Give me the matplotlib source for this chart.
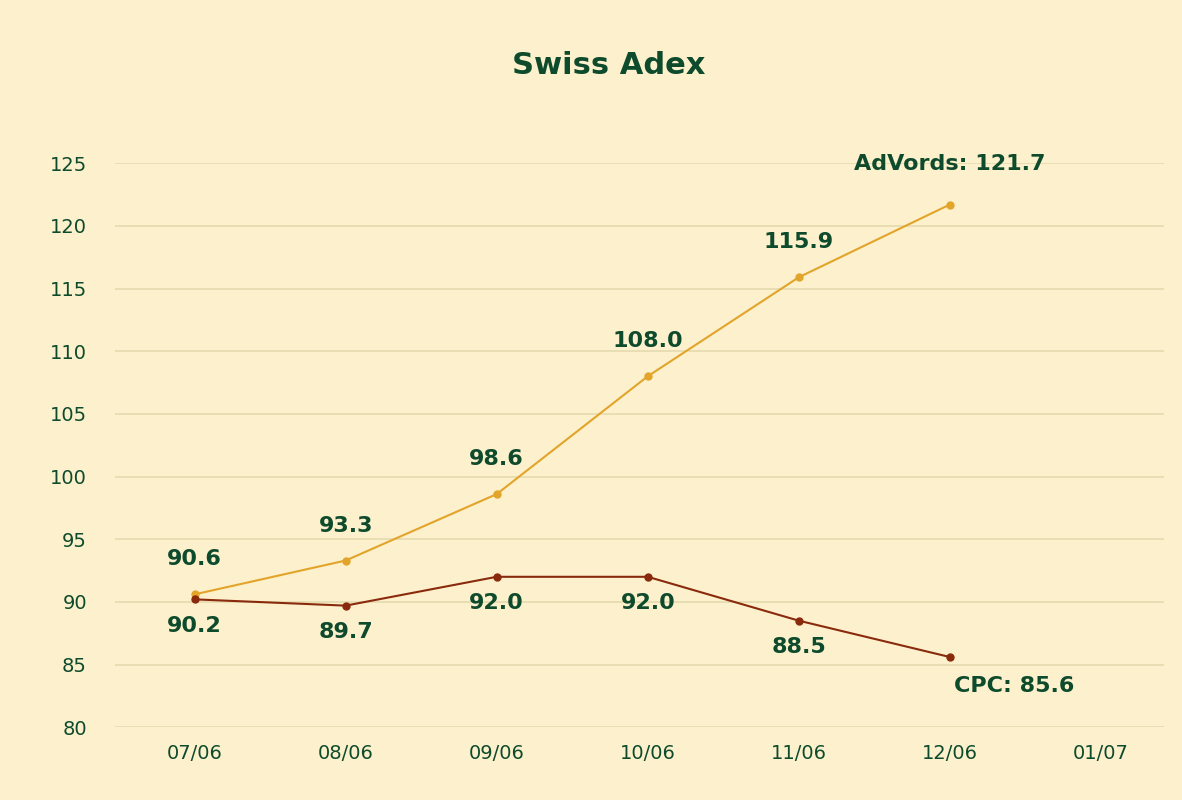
import matplotlib.pyplot as plt
import numpy as np

months = ["07/06", "08/06", "09/06", "10/06", "11/06", "12/06", "01/07"]
adwords = [90.6, 93.3, 98.6, 108.0, 115.9, 121.7]
cpc = [90.2, 89.7, 92.0, 92.0, 88.5, 85.6]
yticks = [80, 85, 90, 95, 100, 105, 110, 115, 120, 125]

bg = "#FCF1CC"
txt = "#0E4A2C"
gold = "#E2A42A"
red = "#8A2A0C"

fig = plt.figure(figsize=(11.82, 8.0), dpi=100, facecolor=bg)
ax = fig.add_axes([0.097, 0.091, 0.888, 0.705], facecolor=bg)
x = np.arange(len(adwords))

ax.plot(x, adwords, color=gold, lw=1.5, marker="o", ms=5)
ax.plot(x, cpc, color=red, lw=1.5, marker="o", ms=5)

font = dict(color=txt, fontsize=16, fontweight="bold", ha="center")
for i, v in enumerate(adwords[:-1]):
    ax.annotate(f"{v:.1f}", (i, v), xytext=(0, 18), textcoords="offset points", va="bottom", **font)
for i, v in enumerate(cpc[:-1]):
    ax.annotate(f"{v:.1f}", (i, v), xytext=(0, -12), textcoords="offset points", va="top", **font)
ax.annotate(f"AdVords: {adwords[-1]:.1f}", (5, adwords[-1]), xytext=(0, 22),
            textcoords="offset points", va="bottom", annotation_clip=False, **font)
ax.annotate(f"CPC: {cpc[-1]:.1f}", (5, cpc[-1]), xytext=(46, -14),
            textcoords="offset points", va="top", **font)

ax.set_xlim(-0.53, 6.42)
ax.set_ylim(80, 125)
ax.set_yticks(yticks)
ax.set_xticks(range(len(months)))
ax.set_xticklabels(months)
ax.tick_params(length=0, labelsize=14, colors=txt, pad=12)
ax.tick_params(axis="y", pad=20)
ax.grid(axis="y", color="#E6D9AE", lw=1.2)
ax.set_axisbelow(True)
for s in ax.spines.values():
    s.set_visible(False)

fig.text(0.515, 0.918, "Swiss Adex", color=txt, fontsize=22, fontweight="bold", ha="center", va="center")
fig.savefig("out.png", facecolor=bg)
